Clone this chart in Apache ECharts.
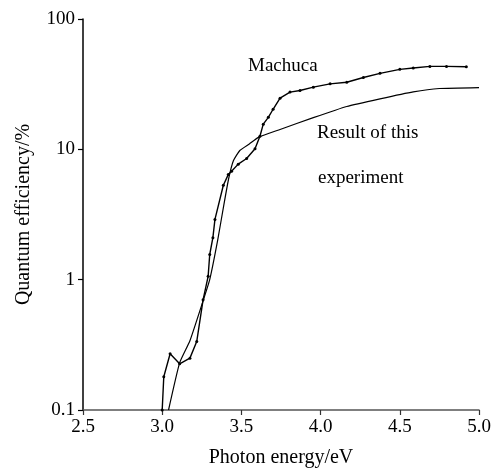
<!DOCTYPE html>
<html>
<head>
<meta charset="utf-8">
<script src="https://cdn.jsdelivr.net/npm/echarts@6/dist/echarts.min.js"></script>
<style>
html,body{margin:0;padding:0;background:#fff;}
#c{width:498px;height:468px;}
</style>
</head>
<body>
<div id="c"></div>
<script>
var xTicks = [2.5, 3.0, 3.5, 4.0, 4.5, 5.0];
var yTicks = [0.1, 1, 10, 100];

var machucaX = [3.00, 3.01, 3.05, 3.11, 3.175, 3.218, 3.258, 3.29, 3.30, 3.32, 3.333, 3.386, 3.417, 3.438, 3.48, 3.533, 3.586, 3.617, 3.638, 3.67, 3.70, 3.744, 3.807, 3.87, 3.954, 4.06, 4.165, 4.27, 4.375, 4.50, 4.585, 4.69, 4.795, 4.92];
var machucaY = [0.10, 0.18, 0.27, 0.226, 0.25, 0.335, 0.70, 1.06, 1.56, 2.1, 2.9, 5.3, 6.4, 6.8, 7.7, 8.5, 10.1, 12.6, 15.6, 17.6, 20.3, 24.7, 27.5, 28.3, 30.0, 31.8, 32.7, 35.6, 38.3, 41.1, 42.1, 43.3, 43.3, 43.0];

var exptX = [3.04, 3.11, 3.175, 3.26, 3.30, 3.35, 3.39, 3.42, 3.45, 3.49, 3.55, 3.61, 3.744, 3.954, 4.165, 4.375, 4.585, 4.75, 5.0];
var exptY = [0.10, 0.23, 0.34, 0.70, 1.0, 2.0, 3.8, 6.0, 8.2, 9.8, 11.0, 12.4, 14.2, 17.5, 21.3, 24.4, 27.6, 29.3, 29.8];

function pairs(xs, ys){ return xs.map(function(x,i){return [x, ys[i]];}); }

var chart = echarts.init(document.getElementById('c'), null, {renderer:'canvas'});
var font = 'Liberation Serif';
chart.setOption({
  animation:false,
  backgroundColor:'#fff',
  grid:{left:83, right:19, top:19, bottom:58, containLabel:false, outerBoundsMode:'none'},
  xAxis:{
    type:'value', min:2.5, max:5.0, interval:0.5,
    name:'Photon energy/eV', nameLocation:'middle', nameGap:38,
    nameTextStyle:{fontFamily:font, fontSize:20, color:'#000'},
    axisLine:{lineStyle:{color:'#555', width:1.5}},
    axisTick:{show:true, inside:false, length:5, lineStyle:{color:'#333', width:1.2}},
    axisLabel:{fontFamily:font, fontSize:19, color:'#000', margin:8,
      formatter:function(v){return v.toFixed(1);} },
    splitLine:{show:false}
  },
  yAxis:{
    type:'log', logBase:10, min:0.1, max:100,
    name:'Quantum efficiency/%', nameLocation:'middle', nameGap:49,
    nameTextStyle:{fontFamily:font, fontSize:20, color:'#000'},
    axisLine:{show:true, lineStyle:{color:'#000', width:1.5}},
    axisTick:{show:true, inside:false, length:5, lineStyle:{color:'#000', width:1.2}},
    minorTick:{show:false},
    axisLabel:{fontFamily:font, fontSize:19, color:'#000', margin:8,
      formatter:function(v){ var r = Math.round(v*10)/10; return String(r);} },
    splitLine:{show:false}
  },
  graphic:[
    {type:'text', left:248, top:57, style:{text:'Machuca', font:'19px "Liberation Serif"', fill:'#000'}},
    {type:'text', left:317, top:124, style:{text:'Result of this', font:'19px "Liberation Serif"', fill:'#000'}},
    {type:'text', left:318, top:169, style:{text:'experiment', font:'19px "Liberation Serif"', fill:'#000'}}
  ],
  series:[
    {type:'line', name:'Machuca', data:pairs(machucaX, machucaY), smooth:false,
      symbol:'circle', symbolSize:3, showSymbol:true,
      lineStyle:{color:'#000', width:1.4}, itemStyle:{color:'#000'}},
    {type:'line', name:'Result of this experiment', data:pairs(exptX, exptY), smooth:0.15,
      symbol:'none', lineStyle:{color:'#000', width:1.2}}
  ]
});
</script>
</body>
</html>
